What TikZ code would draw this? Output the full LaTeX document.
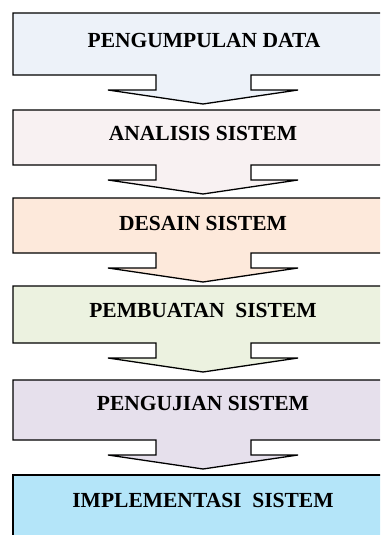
\documentclass[tikz,border=0pt]{standalone}
\usepackage{fontspec}
\setmainfont{Liberation Serif}
\usetikzlibrary{positioning}
\definecolor{c1}{HTML}{EDF2F9}
\definecolor{c2}{HTML}{F8F1F2}
\definecolor{c3}{HTML}{FDE9DB}
\definecolor{c4}{HTML}{ECF2E0}
\definecolor{c5}{HTML}{E6E0EC}
\definecolor{c6}{HTML}{B4E5F9}
\tikzset{call/.style={draw=black,line width=1.3pt,line join=miter},
 lbl/.style={font=\fontsize{21.5}{24}\selectfont\bfseries,inner sep=0pt}}

\begin{document}
\begin{tikzpicture}[x=1pt,y=-1pt]
\clip (0,0) rectangle (380,535);
% callout boxes, top to bottom
\foreach \t/\b/\c in {13/75/c1,110/165/c2,198/253/c3,286/343/c4,380/440/c5}
 \draw[call,fill=\c](13,\t)--(400,\t)--(400,\b)--(251,\b)--(251,\b+15)--(298,\b+15)
  --(203,\b+29)--(108,\b+15)--(156,\b+15)--(156,\b)--(13,\b)--cycle;
\draw[call,fill=c6](13,545)--(13,475)--(400,475)--(400,545);
\node[lbl](s1) at (204,40){PENGUMPULAN DATA};
\node[lbl](s2) at (203,133){ANALISIS SISTEM};
\node[lbl](s3) at (203,223){DESAIN SISTEM};
\node[lbl](s4) at (203,310){PEMBUATAN\ \ SISTEM};
\node[lbl](s5) at (203,403){PENGUJIAN SISTEM};
\node[lbl](s6) at (203,500){IMPLEMENTASI\ \ SISTEM};
\end{tikzpicture}
\end{document}
